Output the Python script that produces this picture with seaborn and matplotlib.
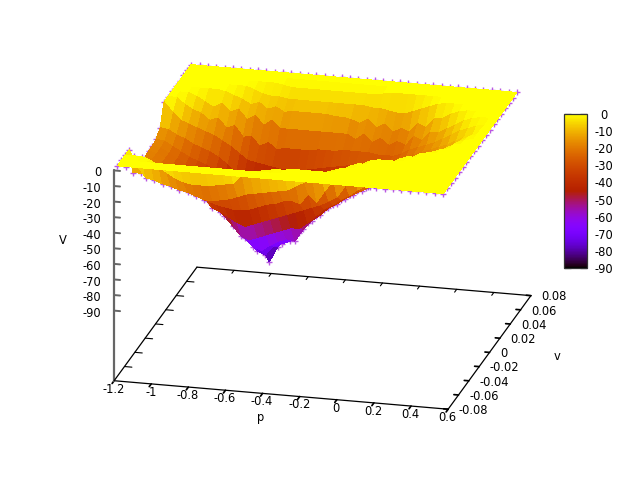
import numpy as np
import matplotlib
matplotlib.use("Agg")
import matplotlib.pyplot as plt
import seaborn as sns

# grid of the value function
p_values = [-1.2, -1.155, -1.11, -1.065, -1.02, -0.975, -0.93, -0.885, -0.84, -0.795,
            -0.75, -0.705, -0.66, -0.615, -0.57, -0.525, -0.48, -0.435, -0.39, -0.345,
            -0.3, -0.255, -0.21, -0.165, -0.12, -0.075, -0.03, 0.015, 0.06, 0.105,
            0.15, 0.195, 0.24, 0.285, 0.33, 0.375, 0.42, 0.465, 0.51, 0.555]
v_values = [-0.0735, -0.066, -0.0585, -0.051, -0.0435, -0.036, -0.0285, -0.021, -0.0135, -0.006,
            0.0015, 0.009, 0.0165, 0.024, 0.0315, 0.039, 0.0465, 0.054, 0.0615, 0.069]

# one line per p value, 20 numbers along v
V_table = [
    [0,0,0,0,-18,-18,-19,-19,-18,-18,-17,-13,0,0,0,0,0,0,0,0],
    [0,0,0,-10,-18,-19,-19,-19,-19,-19,-18,-14,-6,0,0,0,0,0,0,0],
    [0,0,0,-17,-18,-19,-20,-21,-22,-22,-21,-17,-11,-4,0,0,0,0,0,0],
    [0,0,-2,-18,-19,-20,-22,-24,-25,-25,-24,-19,-13,-7,-2,0,0,0,0,0],
    [0,0,-5,-20,-21,-22,-24,-26,-28,-28,-27,-22,-15,-9,-5,0,0,0,0,0],
    [0,0,-9,-21,-23,-24,-26,-28,-30,-31,-29,-24,-17,-13,-8,0,0,0,0,0],
    [0,0,-12,-23,-25,-27,-29,-31,-33,-34,-31,-26,-19,-11,-5,-1,0,0,0,0],
    [0,0,-14,-24,-27,-30,-33,-35,-37,-37,-34,-29,-22,-17,-10,-3,0,0,0,0],
    [0,0,-15,-26,-29,-33,-37,-39,-41,-41,-38,-33,-25,-15,-8,-5,0,0,0,0],
    [0,0,-15,-28,-32,-40,-43,-46,-47,-46,-43,-38,-29,-22,-14,-8,-2,0,0,0],
    [0,0,-15,-28,-34,-42,-48,-52,-54,-52,-48,-42,-33,-21,-11,-6,-4,0,0,0],
    [0,0,-14,-27,-35,-45,-54,-58,-60,-58,-52,-45,-34,-27,-17,-10,-5,0,0,0],
    [0,0,-13,-26,-36,-48,-60,-65,-68,-65,-56,-46,-35,-24,-13,-8,-5,-1,0,0],
    [0,0,-12,-24,-36,-50,-62,-70,-76,-72,-62,-45,-36,-28,-18,-11,-6,-2,0,0],
    [0,0,-6,-22,-35,-48,-60,-72,-78,-86,-72,-44,-37,-27,-18,-10,-6,-2,0,0],
    [0,0,-5,-21,-33,-46,-58,-68,-72,-76,-72,-44,-37,-27,-18,-10,-6,-2,0,0],
    [0,0,-3,-20,-31,-44,-56,-65,-70,-68,-64,-44,-37,-27,-18,-10,-6,-2,0,0],
    [0,0,-2,-19,-30,-42,-54,-63,-68,-64,-58,-44,-36,-27,-18,-10,-6,-2,0,0],
    [0,0,-1,-18,-28,-40,-52,-64,-62,-58,-52,-43,-35,-26,-18,-10,-6,-2,0,0],
    [0,0,-1,-17,-27,-38,-52,-56,-54,-52,-48,-41,-34,-26,-18,-11,-6,-2,0,0],
    [0,0,0,-14,-29,-36,-48,-50,-50,-48,-45,-39,-33,-26,-18,-11,-6,-2,0,0],
    [0,0,0,-11,-22,-34,-43,-46,-46,-44,-42,-37,-32,-25,-18,-12,-6,-2,0,0],
    [0,0,0,-9,-27,-32,-38,-41,-42,-41,-39,-35,-31,-25,-21,-14,-6,-2,0,0],
    [0,0,0,-6,-19,-29,-35,-38,-39,-38,-36,-33,-30,-25,-17,-11,-7,-2,0,0],
    [0,0,0,-3,-12,-26,-31,-34,-35,-35,-33,-31,-29,-25,-22,-16,-7,-1,0,0],
    [0,0,0,-1,-6,-18,-28,-31,-32,-32,-31,-30,-29,-26,-19,-13,-8,0,0,0],
    [0,0,0,0,-2,-10,-24,-28,-30,-30,-29,-29,-28,-26,-23,-18,-9,0,0,0],
    [0,0,0,0,0,-4,-21,-25,-27,-27,-27,-27,-27,-26,-20,-15,-9,0,0,0],
    [0,0,0,0,0,-1,-12,-23,-25,-25,-25,-25,-25,-24,-22,-17,-7,0,0,0],
    [0,0,0,0,0,0,-8,-20,-23,-23,-23,-23,-22,-21,-16,-11,-5,0,0,0],
    [0,0,0,0,0,0,-5,-12,-21,-21,-21,-21,-20,-19,-18,-13,-3,0,0,0],
    [0,0,0,0,0,0,-2,-8,-18,-19,-19,-19,-18,-17,-12,-7,-1,0,0,0],
    [0,0,0,0,0,0,0,-4,-10,-17,-17,-17,-16,-15,-12,-6,0,0,0,0],
    [0,0,0,0,0,0,0,-1,-6,-12,-15,-15,-14,-12,-9,-3,0,0,0,0],
    [0,0,0,0,0,0,0,0,-3,-8,-13,-13,-12,-9,-6,-1,0,0,0,0],
    [0,0,0,0,0,0,0,0,-1,-4,-7,-10,-9,-6,-3,0,0,0,0,0],
    [0,0,0,0,0,0,0,0,0,-1,-3,-5,-6,-4,-1,0,0,0,0,0],
    [0,0,0,0,0,0,0,0,0,0,-1,-2,-4,-2,0,0,0,0,0,0],
    [0,0,0,0,0,0,0,0,0,0,0,0,0,-1,0,0,0,0,0,0],
    [0,0,0,0,0,0,0,0,0,0,0,0,0,0,0,0,0,0,0,0],
]

p_ticks = [-1.2, -1, -0.8, -0.6, -0.4, -0.2, 0, 0.2, 0.4, 0.6]
p_ticklabels = ["-1.2", "-1", "-0.8", "-0.6", "-0.4", "-0.2", "0", "0.2", "0.4", "0.6"]
v_ticks = [-0.08, -0.06, -0.04, -0.02, 0, 0.02, 0.04, 0.06, 0.08]
v_ticklabels = ["-0.08", "-0.06", "-0.04", "-0.02", "0", "0.02", "0.04", "0.06", "0.08"]
z_ticks = [0, -10, -20, -30, -40, -50, -60, -70, -80, -90]
cb_ticks = z_ticks

fs = 8.3
sns.set_theme(style="white", rc={"font.size": fs, "axes.unicode_minus": False, "text.color": "black",
                                 "xtick.color": "black", "ytick.color": "black"})
cmap = sns.color_palette("gnuplot", as_cmap=True)

P, Vel = np.meshgrid(p_values, v_values, indexing="ij")
Z = np.array(V_table, dtype=float)

fig = plt.figure(figsize=(6.4, 4.8), dpi=100)
ax = fig.add_axes([0.1188, 0.001, 0.75, 1.0], projection="3d", proj_type="ortho", computed_zorder=False)
ax.patch.set_alpha(0)
ax.view_init(elev=20, azim=-76)
ax.set_xlim(-1.2, 0.6, view_margin=0)
ax.set_ylim(-0.08, 0.08, view_margin=0)
ax.set_zlim(-135, 0, view_margin=0)
ax.set_box_aspect((343, 341, 223), zoom=1.081)

# points first, the surface hides all but the ones sticking out
ax.scatter(P.ravel(), Vel.ravel(), Z.ravel(), marker="+", s=24, linewidths=1.0, color="#9400d3", alpha=0.65,
           depthshade=False, zorder=2)
ax.plot_surface(P, Vel, Z, cmap=cmap, vmin=-90, vmax=0, rstride=1, cstride=1, shade=False,
                linewidth=0, antialiased=False, zorder=3)

ax.grid(False)
for axis in (ax.xaxis, ax.yaxis, ax.zaxis):
    axis.pane.set_visible(False)
    axis.line.set_color("black")
    axis.line.set_linewidth(0.9)
    axis._axinfo["tick"]["outward_factor"] = 0.0
ax.xaxis._axinfo["tick"]["inward_factor"] = 0.3
ax.yaxis._axinfo["tick"]["inward_factor"] = -0.17
ax.zaxis._axinfo["tick"]["inward_factor"] = 0.0
ax.zaxis.set_ticks_position("lower")
ax.zaxis.line.set_color("#666666")
ax.zaxis.line.set_linewidth(1.6)

ax.set_xticks(p_ticks)
ax.set_xticklabels(p_ticklabels)
ax.set_yticks(v_ticks)
ax.set_yticklabels(v_ticklabels)
ax.set_zticks(z_ticks)
ax.set_zticklabels([str(t) for t in z_ticks])
ax.tick_params(axis="x", labelsize=fs, pad=-7)
ax.tick_params(axis="y", labelsize=fs, pad=-2.2)
ax.tick_params(axis="z", labelsize=fs, pad=-2.6)
for t in ax.yaxis.get_major_ticks():
    t.label1.set_ha("left")
    t.label1.set_va("bottom")
for t in ax.zaxis.get_major_ticks():
    t.label1.set_ha("right")
    t.label1.set_va("center")

# back edges of the base with their ticks, ticks of the z axis
ax.plot([-1.2, 0.6], [0.08, 0.08], [-135, -135], color="black", lw=0.9, zorder=1)
ax.plot([-1.2, -1.2], [-0.08, 0.08], [-135, -135], color="black", lw=0.9, zorder=1)
for t in p_ticks[1:-1]:
    ax.plot([t, t], [0.08, 0.076], [-135, -135], color="black", lw=0.8, zorder=1)
for t in v_ticks[1:-1]:
    ax.plot([-1.2, -1.16], [t, t], [-135, -135], color="black", lw=0.8, zorder=1)
for t in z_ticks:
    ax.plot([-1.2, -1.168], [-0.08, -0.08], [t, t], color="#666666", lw=1.4, zorder=1)

fig.text(261 / 640, 1 - 418 / 480, "p", ha="center", va="center", fontsize=fs)
fig.text(557 / 640, 1 - 357 / 480, "v", ha="center", va="center", fontsize=fs)
fig.text(63 / 640, 1 - 241 / 480, "V", ha="center", va="center", fontsize=fs)

# colour box
cax = fig.add_axes([564 / 640, 1 - 268 / 480, 23 / 640, 154 / 480])
sm = plt.cm.ScalarMappable(norm=plt.Normalize(-90, 0), cmap=cmap)
cb = fig.colorbar(sm, cax=cax, ticks=cb_ticks)
cb.ax.tick_params(direction="in", left=True, right=True, length=5, width=0.9, color="#333333", labelsize=fs, pad=12)
for lab in cb.ax.get_yticklabels():
    lab.set_ha("center")
cb.outline.set_edgecolor("#333333")
cb.outline.set_linewidth(0.9)

fig.savefig("out.png", dpi=100)
